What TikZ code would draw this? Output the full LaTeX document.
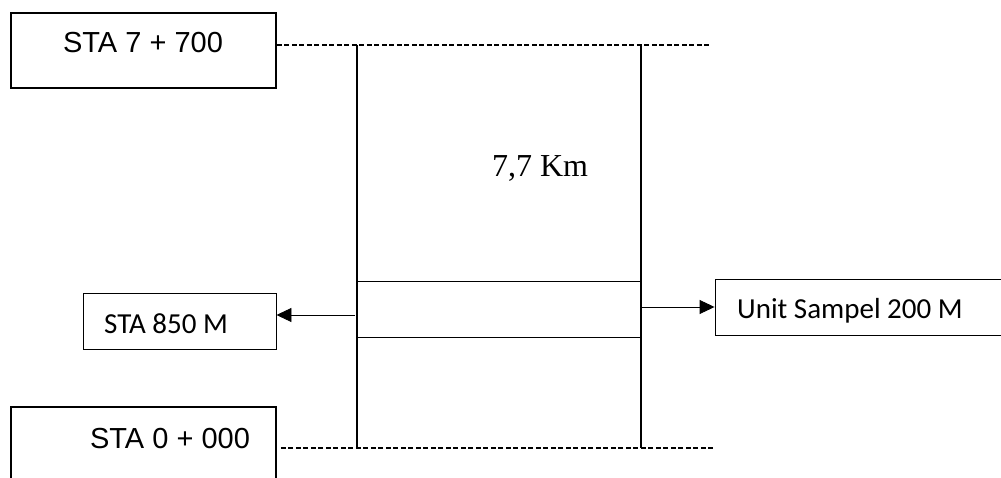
\documentclass[tikz,border=0pt]{standalone}
\usepackage{fontspec}
\setmainfont{Liberation Serif}
\newfontfamily\arialfont{Liberation Sans}
\newfontfamily\calibrifont{Carlito}
\usetikzlibrary{arrows.meta}
\begin{document}
\begin{tikzpicture}[x=1pt,y=-1pt,line cap=butt,line join=miter,>={Triangle[length=15pt,width=14pt]}]
            \tikzset{stabox/.style={draw,line width=1.5pt,inner sep=0pt},
                unitbox/.style={draw,line width=.9pt,inner sep=0pt,minimum height=56pt},
                stalabel/.style={anchor=base,inner sep=0pt,font=\arialfont\fontsize{29}{34}\selectfont},
                unitlabel/.style={anchor=base,inner sep=0pt,font=\calibrifont\fontsize{29}{34}\selectfont},
                dashline/.style={line width=1.2pt,dash pattern=on 5pt off 2.5pt},
                post/.style={line width=1.5pt},
                segment/.style={line width=.9pt}
            }
            \useasboundingbox (0,0) rectangle (1001,478);
            \clip (0,0) rectangle (1001,478);
            % station boxes
            \node[stabox,minimum width=265pt,minimum height=75pt] (sta7) at (143.5,50.5) {};
            \node[stalabel] (sta7txt) at (143,53) {STA 7 + 700};
            \node[stabox,minimum width=265pt,minimum height=100pt] (sta0) at (143.5,457) {};
            \node[stalabel] (sta0txt) at (170,448) {STA 0 + 000};
            \node[unitbox,minimum width=193pt] (sta850) at (179.5,321) {};
            \node[unitlabel] (sta850txt) at (166,333) {STA 850 M};
            \node[unitbox,minimum width=300pt] (unit) at (865,307) {};
            \node[unitlabel,anchor=base west] (unittxt) at (737,318) {Unit Sampel 200 M};
            \node[anchor=base,inner sep=0pt,font=\fontsize{32}{38}\selectfont] (km) at (540,177) {7,7 Km};
            % road section
            \coordinate (tl) at (357,45); \coordinate (tr) at (641,45);
            \coordinate (bl) at (357,448); \coordinate (br) at (641,448);
            \coordinate (tend) at (710,45); \coordinate (bend) at (714,448);
            \coordinate (s1l) at (357,281); \coordinate (s1r) at (641,281);
            \coordinate (s2l) at (357,337); \coordinate (s2r) at (641,337);
            \coordinate (a850) at (355,315); \coordinate (a200) at (641,307);
            \draw[dashline] (sta7.east |- tl) -- (tend);
            \draw[dashline] (sta0.east |- bl) ++(4,0) -- (bend);
            \draw[post] (tl) -- (bl) (tr) -- (br);
            \draw[segment] (s1l) -- (s1r) (s2l) -- (s2r);
            \draw[segment,->] (a850) -- (a850 -| sta850.east);
            \draw[segment,->] (a200) -- (unit.west);
    \end{tikzpicture}
\end{document}
